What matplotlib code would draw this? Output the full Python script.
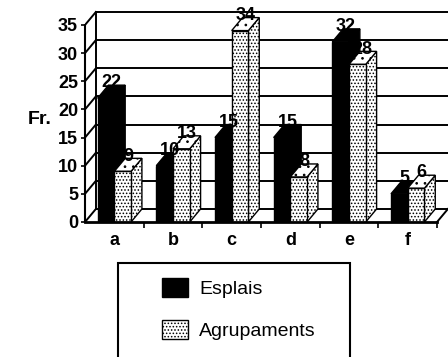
import matplotlib
matplotlib.use('Agg')
import matplotlib.pyplot as plt
from matplotlib.patches import Polygon, Rectangle

categories = ['a', 'b', 'c', 'd', 'e', 'f']
esplais = [22, 10, 15, 15, 32, 5]
agrupaments = [9, 13, 34, 8, 28, 6]
yticks = [0, 5, 10, 15, 20, 25, 30, 35]

plt.rcParams['font.family'] = ['Liberation Sans', 'DejaVu Sans']
plt.rcParams['hatch.linewidth'] = 0.7

fig = plt.figure(figsize=(4.48, 3.57), dpi=100)
ax = fig.add_axes([85/448, 135/357, 363/448, 212/357])
ax.set_xlim(-0.5, 5.687)
ax.set_ylim(0, 37.66)

# depth of the pseudo 3d box, bar width
dx, dy = 0.185, 2.31
w = 0.285

# back wall grid
for v in yticks[1:]:
    ax.plot([-0.5 + dx, 5.687], [v + dy, v + dy], color='k', lw=1.4, zorder=1, clip_on=False)
ax.plot([-0.5 + dx, -0.5 + dx], [dy, 35 + dy], color='k', lw=1.4, zorder=1)
# side wall
for v in yticks:
    ax.plot([-0.5, -0.5 + dx], [v, v + dy], color='k', lw=1.4, zorder=1)
# floor
ax.plot([-0.5 + dx, 5.5 + dx], [dy, dy], color='k', lw=1.4, zorder=1)
ax.plot([5.5, 5.5 + dx], [0, dy], color='k', lw=1.4, zorder=1)


def bar3d(x0, v, dotted):
    if dotted:
        kw = dict(facecolor='white', edgecolor='k', hatch='.....', lw=1.0)
        kt = dict(facecolor='white', edgecolor='k', hatch='..', lw=1.0)
    else:
        kw = dict(facecolor='k', edgecolor='k', lw=1.0)
        kt = kw
    ax.add_patch(Polygon([(x0 + w, 0), (x0 + w + dx, dy), (x0 + w + dx, v + dy), (x0 + w, v)], zorder=3, **kw))
    ax.add_patch(Polygon([(x0, v), (x0 + w, v), (x0 + w + dx, v + dy), (x0 + dx, v + dy)], zorder=3, **kt))
    ax.add_patch(Rectangle((x0, 0), w, v, zorder=3, **kw))
    ax.text(x0 + w / 2 + dx / 2, v + dy + 0.4, str(v), ha='center', va='center',
            fontsize=13, fontweight='bold', zorder=5)


for i in range(len(categories)):
    bar3d(i - w, esplais[i], False)
    bar3d(i, agrupaments[i], True)

for s in ['top', 'right']:
    ax.spines[s].set_visible(False)
ax.spines['left'].set_bounds(0, 35)
ax.spines['left'].set_linewidth(1.5)
ax.spines['bottom'].set_bounds(-0.5, 5.5)
ax.spines['bottom'].set_linewidth(2)
ax.spines['bottom'].set_zorder(4)

ax.set_yticks(yticks)
ax.set_yticklabels([str(t) for t in yticks], fontweight='bold', fontsize=13)
ax.tick_params(axis='y', length=3, width=1.2, pad=2)
ax.set_xticks(range(len(categories)))
ax.set_xticklabels(categories, fontweight='bold', fontsize=13)
ax.set_xticks([i + 0.5 for i in range(len(categories))], minor=True)
ax.tick_params(axis='x', which='major', length=0, pad=7)
ax.tick_params(axis='x', which='minor', length=4, width=1.2)

fig.text(28/448, (357 - 120)/357, 'Fr.', fontsize=14, fontweight='bold', ha='left', va='center')

# legend
fig.add_artist(Rectangle((118/448, -0.05), (350 - 118)/448, (357 - 263)/357 + 0.05,
                         transform=fig.transFigure, fill=False, ec='k', lw=1.5))
handles = [Rectangle((0, 0), 1, 1, facecolor='k', edgecolor='k'),
           Rectangle((0, 0), 1, 1, facecolor='white', edgecolor='k', hatch='.....')]
fig.legend(handles, ['Esplais', 'Agrupaments'], loc='upper left',
           bbox_to_anchor=(162/448, (357 - 278)/357), frameon=False, fontsize=14,
           handlelength=1.34, handleheight=1.13, handletextpad=0.57, labelspacing=1.1,
           borderpad=0, borderaxespad=0)

fig.savefig('out.png', dpi=100)
